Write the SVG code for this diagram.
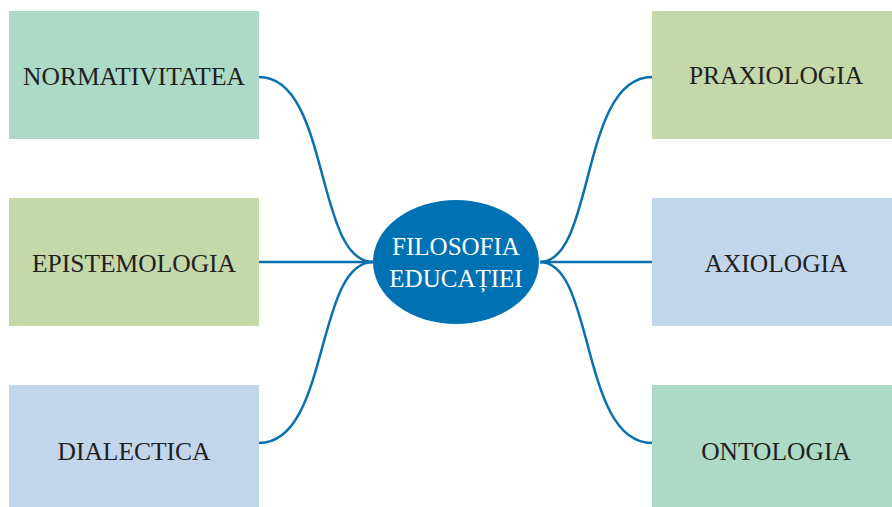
<svg xmlns="http://www.w3.org/2000/svg" width="892" height="507" viewBox="0 0 892 507">
<style>
.lbl{font-family:"Liberation Serif",serif;font-size:25.5px;fill:#231f20;text-anchor:middle}
.ctr{font-family:"Liberation Serif",serif;font-size:25px;fill:#ffffff;text-anchor:middle}
.c{fill:none;stroke:#0a70b0;stroke-width:2.5}
.g1{fill:#acdac7}.g2{fill:#c4d8aa}.g3{fill:#c1d5eb}
</style>
<rect width="892" height="507" fill="#ffffff"/>
<g id="connectors">
<path class="c" d="M259,77 C330,77 315,262 373,262"/>
<path class="c" d="M259,262 L373,262"/>
<path class="c" d="M259,443 C330,443 315,262 373,262"/>
<path class="c" d="M652,77 C580,77 595,262 540,262"/>
<path class="c" d="M652,262 L540,262"/>
<path class="c" d="M652,443 C580,443 595,262 540,262"/>
</g>
<g id="normativitatea"><rect class="g1" x="9" y="11" width="250" height="128"/><text class="lbl" x="134" y="85">NORMATIVITATEA</text></g>
<g id="epistemologia"><rect class="g2" x="9" y="198" width="250" height="128"/><text class="lbl" x="134" y="272">EPISTEMOLOGIA</text></g>
<g id="dialectica"><rect class="g3" x="9" y="385" width="250" height="122"/><text class="lbl" x="134" y="460">DIALECTICA</text></g>
<g id="praxiologia"><rect class="g2" x="652" y="11" width="240" height="128"/><text class="lbl" x="776" y="84">PRAXIOLOGIA</text></g>
<g id="axiologia"><rect class="g3" x="652" y="198" width="240" height="128"/><text class="lbl" x="776" y="272">AXIOLOGIA</text></g>
<g id="ontologia"><rect class="g1" x="652" y="385" width="240" height="122"/><text class="lbl" x="776" y="460">ONTOLOGIA</text></g>
<g id="center"><ellipse cx="456" cy="262" rx="83" ry="62" fill="#0071b3"/><text class="ctr" x="456" y="255">FILOSOFIA</text><text class="ctr" x="456" y="287">EDUCAȚIEI</text></g>
</svg>
